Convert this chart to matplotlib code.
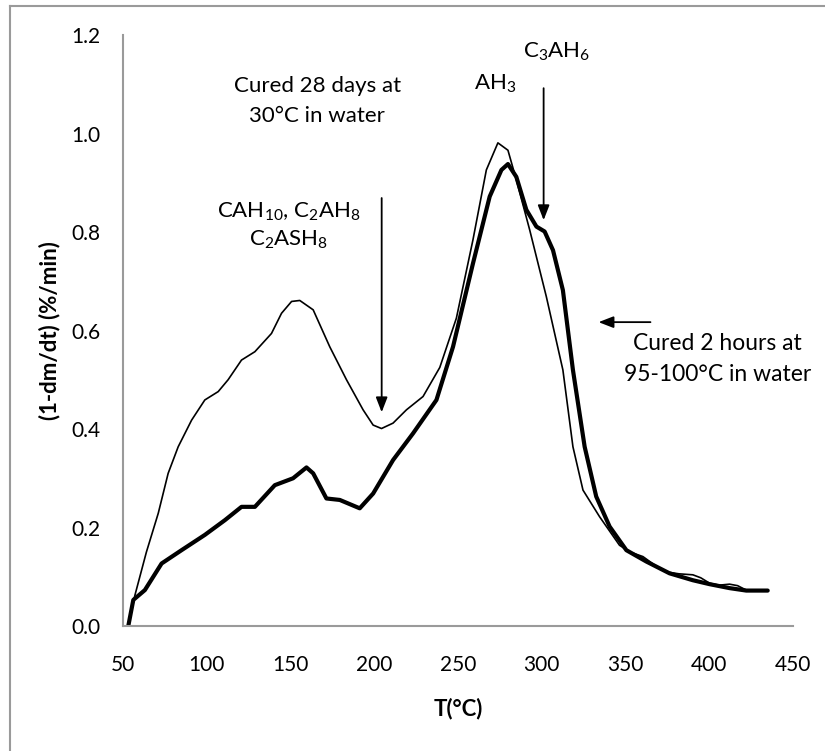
import numpy as np
import matplotlib
matplotlib.use("Agg")
import matplotlib.pyplot as plt
from matplotlib.lines import Line2D

plt.rcParams['font.family'] = ['Lato', 'DejaVu Sans']
plt.rcParams['mathtext.fontset'] = 'custom'
plt.rcParams['mathtext.rm'] = 'Lato'
plt.rcParams['mathtext.it'] = 'Lato:italic'
plt.rcParams['mathtext.bf'] = 'Lato:bold'
plt.rcParams['mathtext.default'] = 'rm'

## Données

# Cured 28 days at 30°C in water (trait fin)
T_28j = [53.2, 57.2, 64.0, 71.1, 77.0, 83.0, 91.0, 98.9, 106.9, 112.8, 120.8, 128.8,
         138.7, 144.7, 150.7, 155.6, 163.6, 173.5, 183.5, 193.4, 199.4, 204.4, 211.3,
         219.3, 229.2, 239.2, 249.1, 259.0, 267.0, 273.9, 279.9, 284.9, 292.9, 302.8,
         312.7, 318.7, 324.7, 334.6, 346.5, 353.0, 360.5, 367.0, 374.4, 382.0, 390.3,
         395.0, 400.3, 406.0, 412.2, 417.0, 422.2, 428.0, 435.0]
DTG_28j = [0.0, 0.063, 0.15, 0.229, 0.31, 0.364, 0.418, 0.459, 0.476, 0.50, 0.540, 0.557,
           0.594, 0.635, 0.659, 0.661, 0.642, 0.567, 0.50, 0.439, 0.408, 0.401, 0.412,
           0.439, 0.466, 0.525, 0.625, 0.784, 0.926, 0.981, 0.966, 0.906, 0.804, 0.669,
           0.52, 0.364, 0.276, 0.222, 0.164, 0.150, 0.141, 0.125, 0.110, 0.106, 0.104,
           0.098, 0.087, 0.083, 0.085, 0.082, 0.073, 0.072, 0.072]

# Cured 2 hours at 95-100°C in water (trait épais)
T_2h = [53.2, 56.2, 63.1, 73.1, 85.0, 98.9, 110.9, 120.8, 128.8, 140.7, 151.6, 159.6,
        163.6, 171.5, 179.5, 191.4, 199.4, 211.3, 223.2, 237.2, 247.1, 259.0, 269.0,
        276.0, 279.9, 284.9, 290.9, 296.9, 301.8, 306.8, 312.7, 318.7, 325.7, 332.6,
        340.6, 350.6, 362.5, 376.4, 390.3, 400.3, 412.2, 422.2, 435.0]
DTG_2h = [0.0, 0.053, 0.073, 0.127, 0.154, 0.185, 0.215, 0.242, 0.242, 0.286, 0.30, 0.322,
          0.31, 0.259, 0.256, 0.239, 0.269, 0.337, 0.391, 0.459, 0.567, 0.736, 0.872,
          0.926, 0.938, 0.912, 0.845, 0.811, 0.801, 0.763, 0.682, 0.520, 0.364, 0.263,
          0.202, 0.154, 0.131, 0.107, 0.093, 0.085, 0.077, 0.072, 0.072]

x_ticks = [50, 100, 150, 200, 250, 300, 350, 400, 450]
y_ticks = [0.0, 0.2, 0.4, 0.6, 0.8, 1.0, 1.2]

## Graphique
fig = plt.figure(figsize=(8.25, 7.51), dpi=100)
ax = fig.add_axes([0.149, 0.1664, 0.812, 0.787])

ax.plot(T_28j, DTG_28j, color="black", linewidth=1.2, solid_joinstyle="round")
ax.plot(T_2h, DTG_2h, color="black", linewidth=3.0, solid_joinstyle="round",
        solid_capstyle="round")

ax.set_xlim(50, 450)
ax.set_ylim(0, 1.2)
ax.set_xticks(x_ticks)
ax.set_yticks(y_ticks)
ax.set_yticklabels([f"{v:.1f}" for v in y_ticks])
ax.tick_params(length=0, labelsize=15)
ax.tick_params(axis="x", pad=21)
ax.tick_params(axis="y", pad=16)
for s in ["top", "right"]:
    ax.spines[s].set_visible(False)
for s in ["left", "bottom"]:
    ax.spines[s].set_color("#9a9a9a")
    ax.spines[s].set_linewidth(1.5)

ax.set_xlabel("T(°C)", fontsize=16, fontweight="bold", labelpad=16)
ax.set_ylabel("(1-dm/dt) (%/min)", fontsize=16, fontweight="bold", labelpad=8)

## Annotations
flèche = dict(arrowstyle="-|>,head_length=0.9,head_width=0.35", color="black",
              lw=1.3, shrinkA=0, shrinkB=0)
ax.annotate("", xy=(204.5, 0.434), xytext=(204.5, 0.869), arrowprops=flèche)
ax.annotate("", xy=(301.2, 0.824), xytext=(301.2, 1.092), arrowprops=flèche)
ax.annotate("", xy=(334.0, 0.617), xytext=(365.0, 0.617), arrowprops=flèche)

ax.text(166, 1.066, "Cured 28 days at\n30°C in water", fontsize=16, ha="center",
        va="center", linespacing=1.6)
ax.text(149, 0.812, "CAH$_{10}$, C$_2$AH$_8$\nC$_2$ASH$_8$", fontsize=16, ha="center",
        va="center", linespacing=1.35)
ax.text(272, 1.10, "AH$_3$", fontsize=16, ha="center", va="center")
ax.text(309, 1.165, "C$_3$AH$_6$", fontsize=16, ha="center", va="center")
ax.text(405, 0.542, "Cured 2 hours at\n95-100°C in water", fontsize=16.5, ha="center",
        va="center", linespacing=1.6)

# cadre extérieur (gauche et haut)
fig.add_artist(Line2D([0.0125, 0.0125], [0, 0.992], transform=fig.transFigure,
                      color="#9a9a9a", lw=1.5))
fig.add_artist(Line2D([0.0125, 1.0], [0.992, 0.992], transform=fig.transFigure,
                      color="#9a9a9a", lw=1.5))

plt.savefig("out.png", dpi=100)
